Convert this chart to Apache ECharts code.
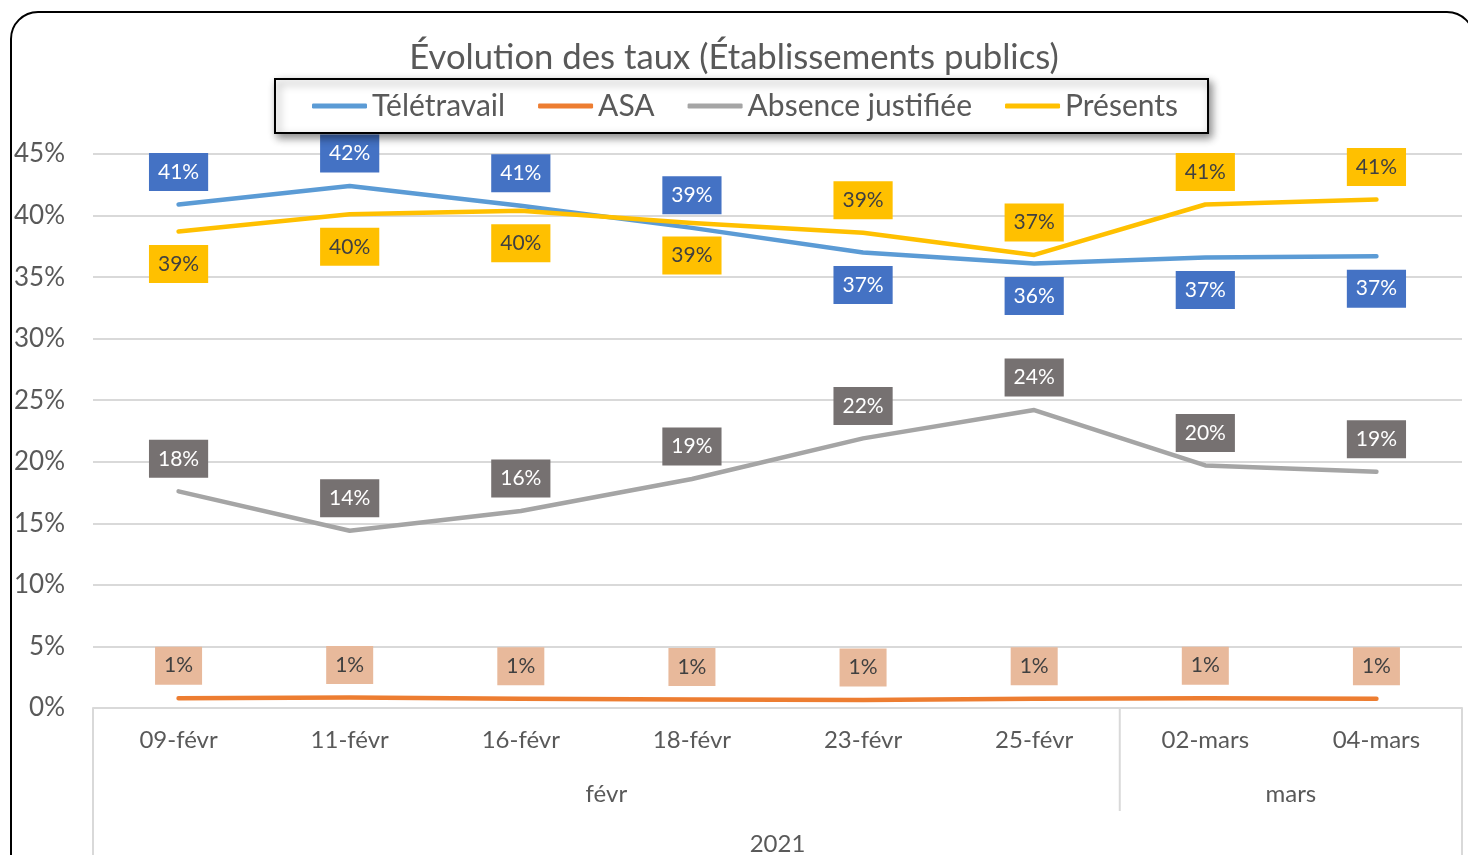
<!DOCTYPE html>
<html>
<head>
<meta charset="utf-8">
<script src="https://cdn.jsdelivr.net/npm/echarts@6/dist/echarts.min.js"></script>
<style>
html,body{margin:0;padding:0;background:#fff;}
#chart{width:1468px;height:855px;}
</style>
</head>
<body>
<div id="chart"></div>
<script>
// ---- data ----
const categories = ['09-févr','11-févr','16-févr','18-févr','23-févr','25-févr','02-mars','04-mars'];
const months = ['févr','févr','févr','févr','févr','févr','mars','mars'];
const year = '2021';
const seriesNames = ['Télétravail','ASA','Absence justifiée','Présents'];
const teletravail = [40.9, 42.4, 40.8, 39.0, 37.0, 36.1, 36.6, 36.7];
const asa = [0.8, 0.85, 0.75, 0.7, 0.65, 0.75, 0.8, 0.75];
const absence = [17.6, 14.4, 16.0, 18.6, 21.9, 24.2, 19.7, 19.2];
const presents = [38.7, 40.1, 40.4, 39.4, 38.6, 36.8, 40.9, 41.3];
const yTicks = [0, 5, 10, 15, 20, 25, 30, 35, 40, 45];

// ---- styling (label placement kept separate from values) ----
const placeTele = ['top','top','top','top','bottom','bottom','bottom','bottom'];
const placePres = ['bottom','bottom','bottom','bottom','top','top','top','top'];
const placeAbs = ['top','top','top','top','top','top','top','top'];
const placeAsa = ['top','top','top','top','top','top','top','top'];

const FONT = 'Lato';
const lineColors = ['#5B9BD5','#ED7D31','#A5A5A5','#FFC000'];
const labelBg = ['#4472C4','#E8B99B','#767171','#FFC000'];
const labelFg = ['#FFFFFF','#404040','#FFFFFF','#404040'];

function mkSeries(idx, values, places){
  return {
    name: seriesNames[idx],
    type: 'line',
    symbol: 'circle',
    symbolSize: 1,
    showSymbol: true,
    smooth: false,
    data: values.map((v,i)=>({value:v, label:{position:places[i]}})),
    lineStyle: {color: lineColors[idx], width: 4.5, cap: 'round', join: 'round'},
    itemStyle: {color: lineColors[idx], opacity: 0},
    label: {
      show: true,
      distance: 13,
      formatter: p => Math.round(p.value) + '%',
      backgroundColor: labelBg[idx],
      color: labelFg[idx],
      fontFamily: FONT,
      fontSize: 21,
      lineHeight: 22,
      padding: [8, 9, 8, 9],
      opacity: 1
    },
    emphasis: {disabled: true},
    z: 2 + idx
  };
}

const chart = echarts.init(document.getElementById('chart'), null, {renderer: 'canvas'});
const GRID = {left: 93, right: 6, top: 154, bottom: 147};
chart.setOption({
  animation: false,
  backgroundColor: '#ffffff',
  title: {
    text: 'Évolution des taux (Établissements publics)',
    left: 'center',
    top: 35,
    textStyle: {fontFamily: FONT, fontSize: 34.7, fontWeight: 'normal', color: '#595959'}
  },
  legend: {
    left: 275,
    top: 79,
    data: seriesNames.map((n, i) => ({name: n, itemStyle: {color: lineColors[i], opacity: 1}})),
    icon: 'roundRect',
    itemWidth: 55,
    itemHeight: 5,
    itemGap: 33,
    padding: [11, 30, 11, 37],
    borderColor: '#000000',
    borderWidth: 2,
    backgroundColor: '#ffffff',
    shadowBlur: 8,
    shadowColor: 'rgba(0,0,0,0.45)',
    shadowOffsetX: 3,
    shadowOffsetY: 4,
    textStyle: {fontFamily: FONT, fontSize: 30, lineHeight: 32, color: '#595959'},
    selectedMode: false
  },
  grid: GRID,
  xAxis: {
    type: 'category',
    data: categories,
    boundaryGap: true,
    axisLine: {show: true, lineStyle: {color: '#D9D9D9', width: 2}},
    axisTick: {show: false},
    axisLabel: {fontFamily: FONT, fontSize: 24, color: '#595959', margin: 20, interval: 0}
  },
  yAxis: {
    type: 'value',
    min: yTicks[0],
    max: yTicks[yTicks.length-1],
    interval: yTicks[1]-yTicks[0],
    axisLine: {show: false},
    axisTick: {show: false},
    splitLine: {lineStyle: {color: '#D9D9D9', width: 2}},
    axisLabel: {fontFamily: FONT, fontSize: 26, color: '#595959', margin: 28, formatter: '{value}%'}
  },
  series: [
    mkSeries(0, teletravail, placeTele),
    mkSeries(1, asa, placeAsa),
    mkSeries(2, absence, placeAbs),
    mkSeries(3, presents, placePres)
  ]
});

// multi-level category axis (month / year) built from axis pixel positions
function buildAxisLevels(){
  const centers = categories.map(c => chart.convertToPixel({xAxisIndex: 0}, c));
  const band = centers[1] - centers[0];
  const y0 = chart.convertToPixel({yAxisIndex: 0}, 0);
  const left = centers[0] - band/2;
  const right = centers[centers.length-1] + band/2;
  const gfx = [];
  const lineStyle = {stroke: '#D9D9D9', lineWidth: 2};
  gfx.push({type:'line', shape:{x1:left, y1:y0, x2:left, y2:900}, style: lineStyle, silent:true});
  gfx.push({type:'line', shape:{x1:right, y1:y0, x2:right, y2:900}, style: lineStyle, silent:true});
  let start = 0;
  for (let i = 1; i <= months.length; i++){
    if (i === months.length || months[i] !== months[start]){
      const gl = centers[start] - band/2;
      const gr = centers[i-1] + band/2;
      if (i !== months.length){
        gfx.push({type:'line', shape:{x1:gr, y1:y0, x2:gr, y2:y0+103}, style: lineStyle, silent:true});
      }
      gfx.push({type:'text', x:(gl+gr)/2, y:y0+86, style:{text: months[start], font: '24px ' + FONT, fill:'#595959', align:'center', verticalAlign:'middle'}, silent:true});
      start = i;
    }
  }
  gfx.push({type:'text', x:(left+right)/2, y:y0+136, style:{text: year, font: '24px ' + FONT, fill:'#595959', align:'center', verticalAlign:'middle'}, silent:true});
  gfx.push({type:'rect', shape:{x:11, y:12, width:1463, height:900, r:27}, style:{fill:'none', stroke:'#000000', lineWidth:2}, silent:true, z:100});
  chart.setOption({graphic: gfx});
}
buildAxisLevels();
</script>
</body>
</html>
